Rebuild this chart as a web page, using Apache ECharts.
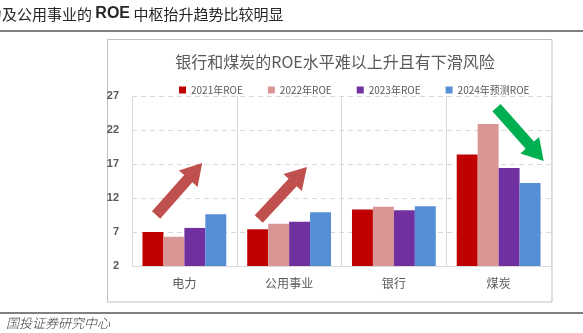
<!DOCTYPE html>
<html>
<head>
<meta charset="utf-8">
<script src="https://cdn.jsdelivr.net/npm/echarts@6/dist/echarts.min.js"></script>
<style>
  html, body { margin: 0; padding: 0; background: #fff; }
  #chart { width: 583px; height: 333px; }
</style>
</head>
<body>
<div id="chart"></div>
<script>
// Sector ROE (%), 2021-2023 actual and 2024 forecast
const categories = ['电力', '公用事业', '银行', '煤炭'];
const seriesNames = ['2021年ROE', '2022年ROE', '2023年ROE', '2024年预测ROE'];
const roe2021 = [7.0, 7.4, 10.3, 18.4];
const roe2022 = [6.3, 8.2, 10.7, 22.9];
const roe2023 = [7.6, 8.5, 10.2, 16.4];
const roe2024 = [9.6, 9.9, 10.8, 14.2];
const yTicks = [2, 7, 12, 17, 22, 27];
const seriesColors = ['#C00000', '#D99694', '#7030A0', '#558ED5'];

// Trend arrows: [fromX, fromY, toX, toY] on a 0..4 category-span axis and the ROE axis
const upArrows = [
  [0.23, 9.5, 0.67, 17.15],
  [1.21, 8.9, 1.67, 16.55]
];
const downArrows = [
  [3.48, 25.3, 3.93, 17.45]
];

const chart = echarts.init(document.getElementById('chart'), null, { renderer: 'canvas' });

function arrowShape(params, api) {
  const p0 = api.coord([api.value(0), api.value(1)]);
  const p1 = api.coord([api.value(2), api.value(3)]);
  const dx = p1[0] - p0[0], dy = p1[1] - p0[1];
  const len = Math.sqrt(dx * dx + dy * dy);
  const ux = dx / len, uy = dy / len;
  const nx = -uy, ny = ux;
  const shaft = 5.5, head = 12.5, headLen = 21;
  const bx = p1[0] - ux * headLen, by = p1[1] - uy * headLen;
  const pts = [
    [p0[0] + nx * shaft, p0[1] + ny * shaft],
    [bx + nx * shaft, by + ny * shaft],
    [bx + nx * head, by + ny * head],
    [p1[0], p1[1]],
    [bx - nx * head, by - ny * head],
    [bx - nx * shaft, by - ny * shaft],
    [p0[0] - nx * shaft, p0[1] - ny * shaft]
  ];
  return {
    type: 'polygon',
    shape: { points: pts },
    style: { fill: api.visual('color') }
  };
}

const barData = [roe2021, roe2022, roe2023, roe2024];

const option = {
  animation: false,
  backgroundColor: '#ffffff',
  title: {
    text: '银行和煤炭的ROE水平难以上升且有下滑风险',
    left: 330,
    textAlign: 'center',
    top: 49,
    textStyle: {
      fontFamily: 'Noto Sans CJK SC',
      fontSize: 16,
      fontWeight: 'normal',
      color: '#595959'
    }
  },
  legend: {
    data: seriesNames,
    left: 174,
    top: 80,
    width: 400,
    itemWidth: 7,
    itemHeight: 7,
    itemGap: 25,
    itemTextGap: 3,
    icon: 'rect',
    textStyle: {
      fontFamily: 'Noto Sans CJK SC',
      fontSize: 10,
      color: '#595959'
    }
  },
  grid: { left: 132, right: 32, top: 96, bottom: 67, containLabel: false },
  xAxis: [
    {
      type: 'category',
      data: categories,
      axisLine: { lineStyle: { color: '#d9d9d9' } },
      axisTick: { show: false },
      splitLine: { show: true, lineStyle: { color: '#d9d9d9', width: 1 } },
      axisLabel: {
        margin: 11,
        fontFamily: 'Noto Sans CJK SC',
        fontSize: 12,
        color: '#595959'
      }
    },
    {
      type: 'value',
      min: 0,
      max: 4,
      show: false
    }
  ],
  yAxis: {
    type: 'value',
    min: yTicks[0],
    max: yTicks[yTicks.length - 1],
    interval: 5,
    axisLine: { show: false },
    axisTick: { show: false },
    splitLine: { lineStyle: { color: '#d9d9d9', type: [5, 4], width: 1 } },
    axisLabel: {
      margin: 13,
      fontFamily: 'Liberation Sans',
      fontWeight: 'bold',
      fontSize: 11,
      color: '#595959'
    }
  },
  series: seriesNames.map((name, i) => ({
    name: name,
    type: 'bar',
    xAxisIndex: 0,
    data: barData[i],
    barGap: '0%',
    barCategoryGap: '20%',
    itemStyle: { color: seriesColors[i] }
  })).concat([
    {
      type: 'custom',
      xAxisIndex: 1,
      yAxisIndex: 0,
      renderItem: arrowShape,
      itemStyle: { color: '#C0504D' },
      data: upArrows,
      silent: true,
      z: 5
    },
    {
      type: 'custom',
      xAxisIndex: 1,
      yAxisIndex: 0,
      renderItem: arrowShape,
      itemStyle: { color: '#00B050' },
      data: downArrows,
      silent: true,
      z: 5
    }
  ]),
  graphic: [
    {
      type: 'text',
      left: -13,
      top: 6,
      style: {
        text: '{c|力及公用事业的 }{b|ROE}{c| 中枢抬升趋势比较明显}',
        rich: {
          c: { fontFamily: 'Noto Sans CJK SC', fontSize: 15, fill: '#262626' },
          b: { fontFamily: 'Liberation Sans', fontWeight: 'bold', fontSize: 16, fill: '#262626' }
        }
      }
    },
    {
      type: 'rect',
      shape: { x: 0, y: 30, width: 583, height: 2 },
      style: { fill: '#808080' }
    },
    {
      type: 'rect',
      shape: { x: 107.5, y: 39.5, width: 444.5, height: 262.5 },
      style: { fill: 'none', stroke: '#bfbfbf', lineWidth: 1 }
    },
    {
      type: 'rect',
      shape: { x: 0, y: 312, width: 583, height: 2 },
      style: { fill: '#808080' }
    },
    {
      type: 'text',
      left: 6,
      top: 317,
      style: {
        text: '国投证券研究中心',
        fontFamily: 'Noto Sans CJK SC',
        fontStyle: 'italic',
        fontWeight: 300,
        fontSize: 13,
        fill: '#404040'
      }
    }
  ]
};

chart.setOption(option);
</script>
</body>
</html>
